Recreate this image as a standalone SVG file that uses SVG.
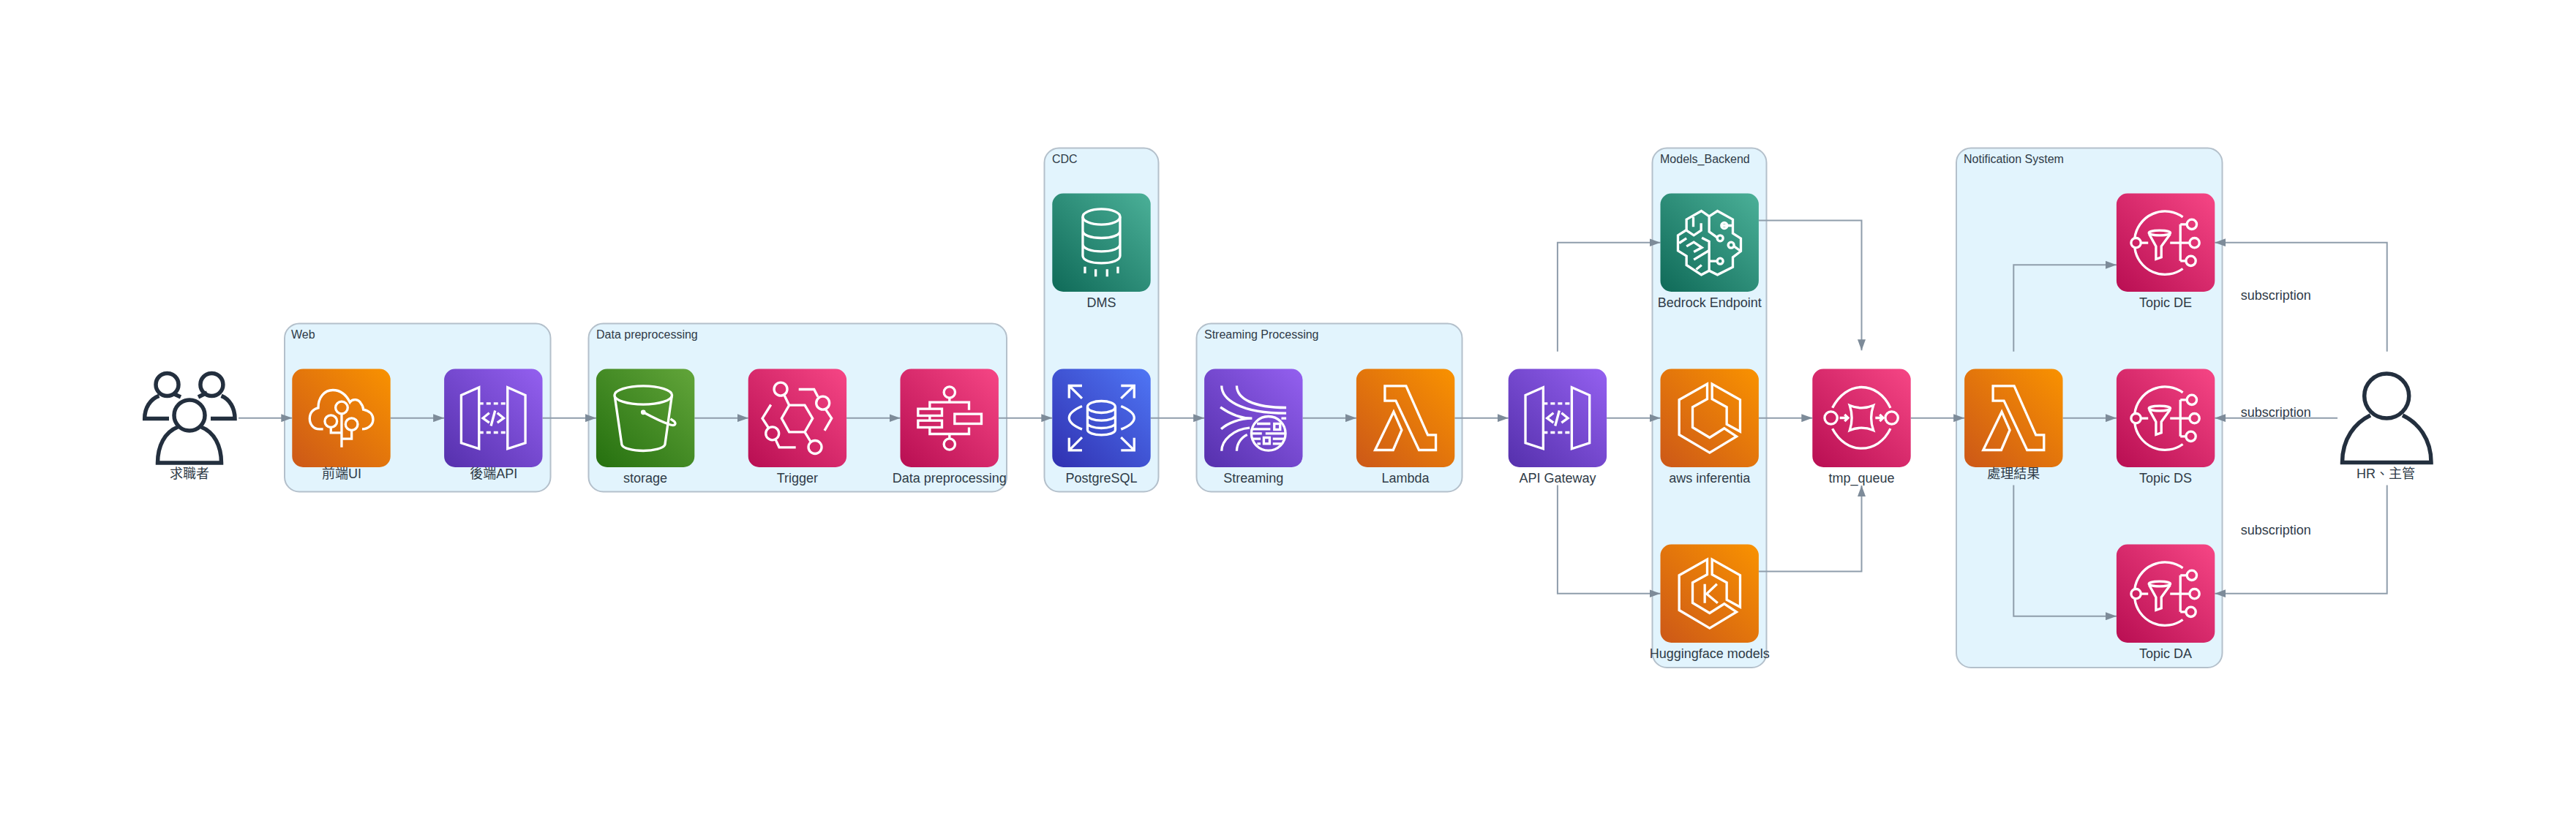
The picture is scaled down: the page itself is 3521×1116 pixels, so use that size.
<svg xmlns="http://www.w3.org/2000/svg" width="3521" height="1116" viewBox="0 0 3521 1116">
<style>
text{font-family:"Liberation Sans","Noto Sans CJK TC",Arial,sans-serif;fill:#2f3b47}
.l{font-size:18px;text-anchor:middle}
.g{font-size:16px}
.grp{fill:#e2f4fd;stroke:#b4c0cb;stroke-width:2}
.card{stroke:none}
.ic{fill:none;stroke:#fff;stroke-width:10}
.e{fill:none;stroke:#8f9dab;stroke-width:2;marker-end:url(#arrow)}
.p{fill:none;stroke:#232f3e;stroke-width:5.5}
</style>
<defs>
<marker id="arrow" viewBox="0 0 15 11" refX="15" refY="5.5" markerWidth="15" markerHeight="11" markerUnits="userSpaceOnUse" orient="auto"><path d="M0 0L15 5.5L0 11Z" fill="#7d8b99"/></marker>
<linearGradient id="gO" x1="0" y1="1" x2="1" y2="0"><stop offset="0" stop-color="#CC5818"/><stop offset="1" stop-color="#F99200"/></linearGradient>
<linearGradient id="gV" x1="0" y1="1" x2="1" y2="0"><stop offset="0" stop-color="#5530AC"/><stop offset="1" stop-color="#9460F0"/></linearGradient>
<linearGradient id="gP" x1="0" y1="1" x2="1" y2="0"><stop offset="0" stop-color="#B80E52"/><stop offset="1" stop-color="#F64685"/></linearGradient>
<linearGradient id="gG" x1="0" y1="1" x2="1" y2="0"><stop offset="0" stop-color="#25700F"/><stop offset="1" stop-color="#62A53A"/></linearGradient>
<linearGradient id="gT" x1="0" y1="1" x2="1" y2="0"><stop offset="0" stop-color="#0F6A58"/><stop offset="1" stop-color="#4BB098"/></linearGradient>
<linearGradient id="gB" x1="0" y1="1" x2="1" y2="0"><stop offset="0" stop-color="#3030B0"/><stop offset="1" stop-color="#4F76F5"/></linearGradient>
<g id="i-app" class="ic" transform="translate(-28 -28)">
<path d="M155 275H140C115 275 100 255 100 232C100 208 115 192 135 188C135 145 160 115 195 115C225 115 250 135 265 165C275 150 300 150 310 170C318 180 320 190 320 195C345 200 360 215 360 235C360 258 340 275 315 275"/>
<circle cx="231" cy="187" r="25"/><circle cx="187" cy="243" r="25"/><circle cx="272" cy="255" r="25"/>
<path d="M231 212V350M187 268V290H231M272 280V315H231"/>
</g>
<g id="i-api" class="ic">
<path d="M70 108L143 76V328L70 304ZM260 76L333 108V304L260 328Z"/>
<path d="M143 142H260M143 261H260" stroke-dasharray="18 12"/>
<path d="M185 181L159 202L185 221M218 181L244 202L218 221M209 171L192 234"/>
</g>
<g id="i-s3" class="ic">
<ellipse cx="193" cy="108" rx="118" ry="38"/>
<path d="M76 112L105 311C110 326 150 336 193 336C236 336 276 326 282 311L310 112"/>
<circle cx="193" cy="178" r="10" fill="#fff" stroke="none"/>
<path d="M193 178C230 198 270 218 300 228C322 236 332 226 318 214L305 205"/>
</g>
<g id="i-eb" class="ic" transform="translate(-10 -28)">
<path d="M147 231L178 177H242L274 231L242 287H178Z"/>
<circle cx="143" cy="111" r="27"/><circle cx="316" cy="168" r="27"/><circle cx="109" cy="293" r="27"/><circle cx="284" cy="349" r="27"/>
<path d="M158 136L178 177M242 287L265 325M217 112H280L296 143M328 195L352 231L323 281M103 175L68 231L92 268M122 318L137 350H205"/>
</g>
<g id="i-sf" class="ic" transform="translate(-17 -28)">
<circle cx="219" cy="124" r="23"/><circle cx="219" cy="337" r="23"/>
<path d="M219 147V165M138 190V165H299V197M138 220V240M138 268V295H299V268M219 295V314"/>
<rect x="90" y="192" width="98" height="28"/><rect x="90" y="240" width="98" height="28"/><rect x="240" y="213" width="110" height="40"/>
</g>
<g id="i-dms" class="ic">
<ellipse cx="201.500" cy="96" rx="76.500" ry="32"/>
<path d="M125 96V256C125 275 160 286 201.500 286C243 286 278 275 278 256V96M125 153C125 172 160 183 201.500 183C243 183 278 172 278 153M125 208C125 227 160 238 201.500 238C243 238 278 227 278 208M134 301V328M178 311V341M225 311V341M269 301V328"/>
</g>
<g id="i-rds" class="ic">
<ellipse cx="201.500" cy="156" rx="57" ry="24"/>
<path d="M144.500 156V250C144.500 262 170 271 201.500 271C233 271 258.500 262 258.500 250V156M144.500 190C144.500 202 170 212 201.500 212C233 212 258.500 202 258.500 190M144.500 222C144.500 234 170 243 201.500 243C233 243 258.500 234 258.500 222"/>
<path d="M69 120V69H122M69 69L122 121M336 120V69H282M336 69L282 121M69 283V334H122M69 334L122 281M336 283V334H282M336 334L282 281"/>
<path d="M122 153Q69 176 69 201Q69 226 122 248M282 153Q336 176 336 201Q336 226 282 248"/>
</g>
<g id="i-kin" class="ic" transform="translate(-19 -28)">
<path d="M90 97C90 150 160 210 355 210M152 97C152 150 220 187 355 187M85 185C120 210 165 231 215 231C165 231 115 250 88 275M90 365C90 320 140 275 205 270M152 365C152 335 170 310 195 298M335 231H355"/>
<circle cx="282" cy="293" r="70"/>
<path d="M235 253H290M216 275H290M212 293H255M270 293H350M216 315H250M300 315H350M236 335H250M300 335H335"/>
<rect x="306" y="253" width="24" height="24"/><rect x="263" y="310" width="24" height="25"/>
</g>
<g id="i-lam" class="ic">
<path d="M117 70H204L293 271H326V333H257L162 131H117ZM153 176L77 333H151L186 251Z"/>
</g>
<g id="i-brain" class="ic" transform="translate(-28 -28)">
<path d="M228 122L196 100L135 135V178L100 200V263L135 285V322L196 362L228 345L262 362L325 330V290L358 265V213L325 192V135L262 100L228 122V185L262 210"/>
<path d="M228 345V225L198 210M228 306H261M278 160H322M330 245L358 265"/>
<circle cx="273" cy="212" r="12"/><circle cx="290" cy="160" r="12"/><circle cx="318" cy="240" r="12"/><circle cx="273" cy="306" r="12"/>
<path d="M163 125V165M195 150V180L165 200L135 180M105 232L135 212M135 245L165 228L198 250L165 268M165 300L228 262M175 340L197 322"/>
</g>
<g id="i-eks" class="ic" transform="translate(-28 -28)">
<path d="M220 90V152L160 185V268L230 310L290 272L340 305L230 372L105 298V155ZM240 90L355 155V285L300 255V185L240 152Z"/>
</g>
<g id="i-sqs" class="ic">
<circle cx="76" cy="201" r="26"/><circle cx="325" cy="201" r="26"/>
<path d="M82 160C110 105 155 75 201 75C250 75 295 105 320 160M82 245C110 298 155 326 201 326C250 326 295 298 320 245"/>
<path d="M153 150Q201 170 250 150Q232 201 250 252Q201 232 153 252Q170 201 153 150Z"/>
<path d="M112 201H146M132 187L146 201L132 215M258 201H290M276 187L290 201L276 215"/>
</g>
<g id="i-sns" class="ic" transform="translate(-38 -28)">
<circle cx="118" cy="231" r="20"/><circle cx="347" cy="155" r="20"/><circle cx="358" cy="231" r="20"/><circle cx="343" cy="305" r="20"/>
<path d="M310 125A125 125 0 0 0 113 210M113 252A125 125 0 0 0 310 337"/>
<path d="M138 231H168M258 231H338M300 155V305M300 155H327M300 305H323"/>
<ellipse cx="215" cy="190" rx="44" ry="10"/>
<path d="M172 195L200 245V298L222 290V245L258 195"/>
</g>
</defs>
<rect width="3521" height="1116" fill="#fff"/>
<g id="groups">
<g id="g-web"><rect class="grp" x="389" y="442.500" width="363.500" height="230" rx="20"/><text class="g" x="398" y="462.500">Web</text></g>
<g id="g-data"><rect class="grp" x="804.500" y="442.500" width="571.500" height="230" rx="20"/><text class="g" x="815" y="462.500">Data preprocessing</text></g>
<g id="g-cdc"><rect class="grp" x="1427.500" y="202.500" width="156" height="470" rx="20"/><text class="g" x="1438" y="222.500">CDC</text></g>
<g id="g-stream"><rect class="grp" x="1635.500" y="442.500" width="363" height="230" rx="20"/><text class="g" x="1646" y="462.500">Streaming Processing</text></g>
<g id="g-models"><rect class="grp" x="2258.500" y="202.500" width="156" height="710.500" rx="20"/><text class="g" x="2269" y="222.500">Models_Backend</text></g>
<g id="g-notify"><rect class="grp" x="2674" y="202.500" width="363.500" height="710.500" rx="20"/><text class="g" x="2684" y="222.500">Notification System</text></g>
</g>
<g id="connectors">
<path class="e" d="M326 571.700H399.300"/>
<path class="e" d="M533.700 571.700H607.100"/>
<path class="e" d="M741.500 571.700H814.900"/>
<path class="e" d="M949.300 571.700H1022.700"/>
<path class="e" d="M1157.100 571.700H1230.500"/>
<path class="e" d="M1364.900 571.700H1438.300"/>
<path class="e" d="M1572.700 571.700H1646.100"/>
<path class="e" d="M1780.500 571.700H1853.900"/>
<path class="e" d="M1988.300 571.700H2061.700"/>
<path class="e" d="M2196.100 571.700H2269.500"/>
<path class="e" d="M2403.900 571.700H2477.300"/>
<path class="e" d="M2611.700 571.700H2685.100"/>
<path class="e" d="M2819.500 571.700H2892.900"/>
<path class="e" d="M2128.900 480.700V331.700H2269.500"/>
<path class="e" d="M2128.900 663.400V811.700H2269.500"/>
<path class="e" d="M2403.900 301.400H2544.500V479.300"/>
<path class="e" d="M2403.900 781.400H2544.500V664"/>
<path class="e" d="M2752.300 480.700V362.300H2892.900"/>
<path class="e" d="M2752.300 663.400V842.800H2892.900"/>
<path class="e" d="M3262.700 480.700V331.700H3027.300"/>
<path class="e" d="M3195 571.700H3027.300"/>
<path class="e" d="M3262.700 663.400V811.700H3027.300"/>
<text class="l" x="3110.800" y="409.500">subscription</text>
<text class="l" x="3110.800" y="570.400">subscription</text>
<text class="l" x="3110.800" y="731">subscription</text>
</g>
<g id="n-seeker">
<g class="p"><circle cx="259" cy="568" r="21"/><circle cx="228.500" cy="526" r="15.500"/><circle cx="289.400" cy="526" r="15.500"/>
<path d="M243 584C225 591 215.500 610 215.500 633H302.500C302.500 610 293 591 275 584M231 572.400H197.700C197.700 558 205 546 217.400 541.400M236 538L247 543M288 572.400H321C321 558 314 546 302.500 541.400M283 537L271 543"/></g>
<text class="l" x="259" y="654">求職者</text>
</g>
<g id="n-frontend"><rect class="card" x="399.300" y="504.500" width="134.400" height="134.400" rx="15" fill="url(#gO)"/><use href="#i-app" transform="translate(399.300 504.500) scale(.3333)"/><text class="l" x="467" y="654">前端UI</text></g>
<g id="n-backend"><rect class="card" x="607.100" y="504.500" width="134.400" height="134.400" rx="15" fill="url(#gV)"/><use href="#i-api" transform="translate(607.100 504.500) scale(.3333)"/><text class="l" x="674.700" y="654">後端API</text></g>
<g id="n-storage"><rect class="card" x="814.900" y="504.500" width="134.400" height="134.400" rx="15" fill="url(#gG)"/><use href="#i-s3" transform="translate(814.900 504.500) scale(.3333)"/><text class="l" x="882" y="660">storage</text></g>
<g id="n-trigger"><rect class="card" x="1022.700" y="504.500" width="134.400" height="134.400" rx="15" fill="url(#gP)"/><use href="#i-eb" transform="translate(1022.700 504.500) scale(.3333)"/><text class="l" x="1089.900" y="660">Trigger</text></g>
<g id="n-preproc"><rect class="card" x="1230.500" y="504.500" width="134.400" height="134.400" rx="15" fill="url(#gP)"/><use href="#i-sf" transform="translate(1230.500 504.500) scale(.3333)"/><text class="l" x="1297.700" y="660">Data preprocessing</text></g>
<g id="n-dms"><rect class="card" x="1438.300" y="264.500" width="134.400" height="134.400" rx="15" fill="url(#gT)"/><use href="#i-dms" transform="translate(1438.300 264.500) scale(.3333)"/><text class="l" x="1505.500" y="420">DMS</text></g>
<g id="n-postgres"><rect class="card" x="1438.300" y="504.500" width="134.400" height="134.400" rx="15" fill="url(#gB)"/><use href="#i-rds" transform="translate(1438.300 504.500) scale(.3333)"/><text class="l" x="1505.500" y="660">PostgreSQL</text></g>
<g id="n-streaming"><rect class="card" x="1646.100" y="504.500" width="134.400" height="134.400" rx="15" fill="url(#gV)"/><use href="#i-kin" transform="translate(1646.100 504.500) scale(.3333)"/><text class="l" x="1713.300" y="660">Streaming</text></g>
<g id="n-lambda"><rect class="card" x="1853.900" y="504.500" width="134.400" height="134.400" rx="15" fill="url(#gO)"/><use href="#i-lam" transform="translate(1853.900 504.500) scale(.3333)"/><text class="l" x="1921.100" y="660">Lambda</text></g>
<g id="n-gateway"><rect class="card" x="2061.700" y="504.500" width="134.400" height="134.400" rx="15" fill="url(#gV)"/><use href="#i-api" transform="translate(2061.700 504.500) scale(.3333)"/><text class="l" x="2128.900" y="660">API Gateway</text></g>
<g id="n-bedrock"><rect class="card" x="2269.500" y="264.500" width="134.400" height="134.400" rx="15" fill="url(#gT)"/><use href="#i-brain" transform="translate(2269.500 264.500) scale(.3333)"/><text class="l" x="2336.700" y="420">Bedrock Endpoint</text></g>
<g id="n-inferentia"><rect class="card" x="2269.500" y="504.500" width="134.400" height="134.400" rx="15" fill="url(#gO)"/><use href="#i-eks" transform="translate(2269.500 504.500) scale(.3333)"/><text class="l" x="2336.700" y="660">aws inferentia</text></g>
<g id="n-hf"><rect class="card" x="2269.500" y="744.500" width="134.400" height="134.400" rx="15" fill="url(#gO)"/><use href="#i-eks" transform="translate(2269.500 744.500) scale(.3333)"/><path class="ic" transform="translate(2269.500 744.500) scale(.3333)" d="M182 163V241M232 163L190 203L235 241"/><text class="l" x="2336.700" y="900">Huggingface models</text></g>
<g id="n-queue"><rect class="card" x="2477.300" y="504.500" width="134.400" height="134.400" rx="15" fill="url(#gP)"/><use href="#i-sqs" transform="translate(2477.300 504.500) scale(.3333)"/><text class="l" x="2544.500" y="660">tmp_queue</text></g>
<g id="n-result"><rect class="card" x="2685.100" y="504.500" width="134.400" height="134.400" rx="15" fill="url(#gO)"/><use href="#i-lam" transform="translate(2685.100 504.500) scale(.3333)"/><text class="l" x="2752.300" y="654">處理結果</text></g>
<g id="n-topic-de"><rect class="card" x="2892.900" y="264.500" width="134.400" height="134.400" rx="15" fill="url(#gP)"/><use href="#i-sns" transform="translate(2892.900 264.500) scale(.3333)"/><text class="l" x="2960.100" y="420">Topic DE</text></g>
<g id="n-topic-ds"><rect class="card" x="2892.900" y="504.500" width="134.400" height="134.400" rx="15" fill="url(#gP)"/><use href="#i-sns" transform="translate(2892.900 504.500) scale(.3333)"/><text class="l" x="2960.100" y="660">Topic DS</text></g>
<g id="n-topic-da"><rect class="card" x="2892.900" y="744.500" width="134.400" height="134.400" rx="15" fill="url(#gP)"/><use href="#i-sns" transform="translate(2892.900 744.500) scale(.3333)"/><text class="l" x="2960.100" y="900">Topic DA</text></g>
<g id="n-hr">
<g class="p"><circle cx="3262.200" cy="541.600" r="30.500"/><path d="M3240 568C3219 578 3201.500 600 3201.500 632.500H3323C3323 600 3305 578 3284 568"/></g>
<text class="l" x="3261" y="654">HR、主管</text>
</g>
</svg>
